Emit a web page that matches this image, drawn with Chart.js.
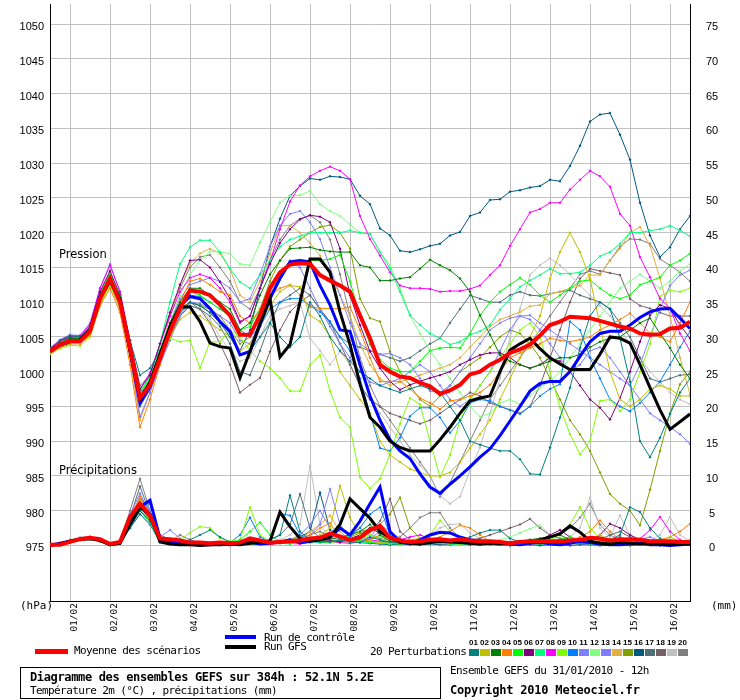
<!DOCTYPE html>
<html>
<head>
<meta charset="utf-8">
<title>Diagramme des ensembles GEFS</title>
<script src="https://cdn.jsdelivr.net/npm/chart.js@4.4.0/dist/chart.umd.min.js"></script>
<style>
  body { margin: 0; background: #fff; }
  #wrap { position: relative; width: 740px; height: 700px; overflow: hidden; background: #fff; color: #000; }
  #gefs { position: absolute; left: 0; top: 0; }
  .lab { position: absolute; white-space: nowrap; font-family: 'DejaVu Sans', sans-serif; font-size: 11.5px; line-height: 12px; }
  .m { position: absolute; white-space: nowrap; font-family: 'DejaVu Sans Mono', monospace; font-size: 11px; letter-spacing: -0.6px; line-height: 12px; }
  .b { font-weight: bold; font-size: 12px; }
  .bar { position: absolute; width: 31px; height: 4px; }
  .code { position: absolute; width: 11px; text-align: center; font-family: 'Liberation Sans', sans-serif; font-weight: bold; font-size: 8px; line-height: 8px; }
  .sq { position: absolute; width: 10px; height: 7px; }
  #box { position: absolute; left: 20px; top: 667px; width: 419px; height: 30px; border: 1px solid #000; }
</style>
</head>
<body>
<div id="wrap">
  <canvas id="gefs" width="740" height="700"></canvas>
  <div class="lab" style="left:59px;top:248px">Pression</div>
  <div class="lab" style="left:59px;top:464px">Précipitations</div>
  <div class="m" style="left:20px;top:600px;letter-spacing:0">(hPa)</div>
  <div class="m" style="left:711px;top:600px;letter-spacing:0">(mm)</div>

  <div class="bar" style="left:35px;top:649px;height:5px;width:33px;background:#ff0000"></div>
  <div class="m" style="left:74px;top:645px">Moyenne des scénarios</div>
  <div class="bar" style="left:225px;top:635px;background:#0000ff"></div>
  <div class="m" style="left:264px;top:632px">Run de contrôle</div>
  <div class="bar" style="left:225px;top:645px;background:#000000"></div>
  <div class="m" style="left:264px;top:641px">Run GFS</div>
  <div class="m" style="left:370px;top:646px">20 Perturbations</div>
  <div id="swatches"></div>

  <div id="box"></div>
  <div class="m b" style="left:30px;top:671px;letter-spacing:-0.35px">Diagramme des ensembles GEFS sur 384h : 52.1N 5.2E</div>
  <div class="m" style="left:30px;top:685px">Température 2m (°C) , précipitations (mm)</div>
  <div class="m" style="left:450px;top:665px">Ensemble GEFS du 31/01/2010 - 12h</div>
  <div class="m b" style="left:450px;top:684px;letter-spacing:-0.2px">Copyright 2010 Meteociel.fr</div>
</div>
<script>
// run of 31/01/2010 12h, one value every 6 hours
const hours = [0,6,12,18,24,30,36,42,48,54,60,66,72,78,84,90,96,102,108,114,120,126,132,138,144,150,156,162,168,174,180,186,192,198,204,210,216,222,228,234,240,246,252,258,264,270,276,282,288,294,300,306,312,318,324,330,336,342,348,354,360,366,372,378,384];
const dayTicks = [12,36,60,84,108,132,156,180,204,228,252,276,300,324,348,372];
const dayLabels = ['01/02','02/02','03/02','04/02','05/02','06/02','07/02','08/02','09/02','10/02','11/02','12/02','13/02','14/02','15/02','16/02'];
const pressureTicks = [975,980,985,990,995,1000,1005,1010,1015,1020,1025,1030,1035,1040,1045,1050];
const precipTicks = [0,5,10,15,20,25,30,35,40,45,50,55,60,65,70,75];
const memberCodes = ['01','02','03','04','05','06','07','08','09','10','11','12','13','14','15','16','17','18','19','20'];

// hPa
const meanPressure = [1002.9,1003.9,1004.4,1004.4,1005.8,1010.5,1013.4,1010,1003.4,996.2,998.1,
  1001.9,1005.8,1009.1,1011.7,1011.5,1011,1009.6,1008.1,1005.3,1005.3,1008.1,1012,
  1014.3,1015.4,1015.6,1015.5,1013.9,1013.1,1012.4,1011.5,1008.1,1004.8,1001,
  1000,999.3,999.1,998.4,997.9,996.8,997.3,998.1,999.6,1000,1001,
  1001.7,1002.7,1003.2,1003.9,1005.2,1006.7,1007.2,1007.9,1007.8,1007.7,
  1007.3,1006.9,1006.5,1006.2,1005.5,1005.3,1005.4,1006.2,1006.3,1007.2];
const controlPressure = [1002.9,1003.8,1004.3,1004.5,1006,1010.8,1013.2,1010,1003,995.5,997.8,
  1001.8,1005.8,1009.5,1010.8,1010.5,1009.1,1007.2,1005.8,1002.4,1002.9,1006.7,1010.5,
  1013.4,1015.8,1016,1015.8,1012.4,1009.6,1006,1005.8,1001,996.5,993,
  990.2,988.6,987.5,985.3,983.4,982.5,983.8,985,986.3,987.7,988.9,
  990.8,992.9,995,997.2,998.3,998.6,998.6,1000,1002.2,1004.3,
  1005.5,1005.8,1005.8,1006.7,1007.8,1008.6,1009,1009.1,1007.7,1006.2];
const gfsPressure = [1003,1003.9,1004.5,1004.6,1006,1010.6,1013,1010.5,1003,996,998.5,
  1002.5,1006.5,1009.3,1009.3,1007.2,1004.1,1003.6,1003.4,999.1,1002.9,1007,1010.5,
  1002.1,1003.9,1010,1016.2,1016.2,1014.3,1008.6,1003.9,998.2,993.4,992,
  990,989.1,988.6,988.6,988.6,990.2,992,994,995.8,996.2,996.5,
  1000,1003.1,1004,1004.8,1003.3,1002,1001.1,1000.3,1000.3,1000.3,
  1002.5,1005,1004.8,1004.1,1001,997.7,994.5,991.7,992.8,993.9];

const pressure01 = [1003.2,1004.5,1005.2,1005,1006.5,1011,1013,1010.5,1004.5,999.5,1000.5,
  1003,1006,1008.5,1010,1009.5,1008.5,1007,1005,1002.5,1003,1005,1007,
  1005,1003.5,1005,1010,1008,1005,1003,1001.5,1000,999,998,
  997.5,997,997.5,998,997.5,997,995,993,990,989.5,989,
  988.6,988.6,987.4,985.3,985.2,989.1,993.4,997.7,1003.4,1008,
  1010,1009,1004.8,998.6,990,987.7,990.5,993.9,997,999];
const pressure02 = [1002.7,1003.6,1004,1004.2,1005.5,1010,1012.8,1009.5,1003,995.5,997.5,
  1001.5,1005,1007.5,1008.5,1008,1007,1006,1005,1003,1004,1006.5,1009.5,
  1011.5,1012.4,1012.2,1008.1,1007.2,1005,1000,998,996,994,990,
  988,987,986,985.5,985,985,985.5,987,989,991,993,
  996,999,1002,1005,1008,1013.4,1017.2,1020,1017.2,1013.4,
  1006.7,1000,996,995,996,997.5,998,997.5,996.5,996.5];
const pressure03 = [1003,1004.1,1004.8,1004.6,1006,1010.5,1013.5,1010.2,1003.6,996.5,998.5,
  1002.5,1007,1010,1012,1012,1011,1010,1009,1006,1007,1011,1014,
  1016,1017.7,1017.8,1017.9,1017.5,1017.3,1017.2,1017.2,1015.3,1015,1013.1,
  1013.1,1013.4,1013.6,1014.8,1016.1,1015.3,1014.6,1013.4,1011.5,1008.1,1005.3,
  1002.4,1001.5,1001,1000.5,1001,1001.5,1002,1002,1002.5,1003.5,
  1004.3,1004.8,1005,1006,1007,1007.7,1005.5,1003.4,1001,999];
const pressure04 = [1002.6,1003.5,1004,1004,1005.2,1009.5,1012,1008.5,1001,992,996,
  1001,1006,1010,1013,1013.4,1012.5,1011.5,1011,1008,1007,1009,1011,
  1012,1012.5,1011,1009.3,1009.1,1009.1,1009,1009.3,1006,1002,998.6,
  998.6,998.6,997.5,996.2,995.5,994.6,995.8,996,996.5,997,998.1,
  1000,1002,1002.7,1003.4,1004,1004.8,1004.5,1004.3,1004.6,1005,
  1006,1006.7,1007.5,1008.4,1007,1005.5,1005,1004.3,1007,1010];
const pressure05 = [1003.1,1004,1004.6,1004.8,1006.2,1011,1014,1010.8,1004,997,999,
  1003,1006.5,1009.5,1011.5,1011,1010,1009,1008,1006,1006.5,1009,1012,
  1014,1015.3,1015.5,1016,1016,1016.2,1016.8,1013,1008,1003.9,1001.7,
  1000.5,1000,1000,1001.5,1003,1003.4,1003.5,1003.4,1005.5,1008.1,1010,
  1011.5,1012.5,1013.5,1012.5,1011,1010,1011,1012,1013,1013.2,
  1012,1011,1010.5,1011,1012.5,1013,1013.6,1015.3,1016,1017];
const pressure06 = [1003.3,1004.4,1005,1005,1006.5,1011.5,1014.5,1011,1004.5,997.5,999.5,
  1004,1008.5,1012.5,1016,1016.1,1015,1012.9,1010.5,1007.2,1008,1012,1015.5,
  1018.5,1020.5,1021.9,1022.5,1022.3,1021.5,1017.7,1011,1006.7,1002.9,1000.5,
  998.6,997.4,998.1,998.6,999.1,999.5,1000,1001,1001.7,1002.4,1002.7,
  1002.7,1002,1001,1000.5,1001,1002,1001.5,1000,998,996,
  994.8,993.1,996.2,1000,1004.3,1008.1,1009.6,1009.1,1006.7,1004.8];
const pressure07 = [1003,1004.2,1004.6,1004.7,1006.3,1011.3,1014.3,1010.8,1004.2,997.2,999.2,
  1004,1010,1015.5,1017.9,1018.9,1018.9,1017.2,1014.8,1012.9,1012,1013.9,1016,
  1018,1019,1019.5,1020,1020,1020,1020,1020.3,1020,1019.8,1017.2,
  1014.8,1011.5,1008.1,1006.7,1005.5,1004.8,1003.9,1004.3,1005.3,1005.8,1006.7,
  1008.9,1010.5,1012.2,1013.1,1013.9,1014.8,1014.1,1014.1,1014.3,1015.3,
  1016.6,1017.2,1018.4,1020,1020,1020.3,1020.5,1021,1020.3,1019.5];
const pressure08 = [1003.3,1004.5,1005.1,1005.2,1006.8,1012,1015.3,1011.5,1004.5,997.5,999.8,
  1004,1008,1011.5,1013.5,1014,1013.5,1012,1010,1007,1008,1012,1015.8,
  1020.5,1024.5,1026.8,1028.1,1028.9,1029.5,1028.9,1027.7,1022.4,1019.1,1016.7,
  1014.3,1012.4,1012,1012,1011.9,1011.5,1011.6,1011.6,1011.9,1012.4,1013.9,
  1015.3,1018.1,1020.5,1022.9,1023.4,1024.3,1024.3,1026.2,1027.6,1028.9,
  1028.1,1026.6,1022.7,1021,1016.5,1013.6,1010.5,1009.1,1005.5,1003];
const pressure09 = [1002.5,1003.3,1003.8,1003.7,1005,1009.5,1012.5,1009.2,1003,996,998,
  1002,1004.8,1004.3,1004.5,1000.5,1004.3,1004.3,1006,1005,1003,1001.5,1000.5,
  999.1,997.2,997.2,1001,1002.4,997.2,993.4,992,984.8,983.2,984.6,
  988.1,992.5,996.2,995.3,990,984.8,988,993,996,998,1000,
  1002,1004,1006,1007,1005,1000,994.8,991,988.1,990,
  995.8,996,994.3,996,1000,1004,1010.8,1011.7,1011.5,1012];
const pressure10 = [1002.8,1003.7,1004.3,1004.3,1005.7,1010.2,1013,1009.8,1003.2,995.5,997.8,
  1001.5,1005.5,1009,1011,1010.8,1010,1009,1008,1006,1005,1006.5,1009,
  1010,1010.5,1010.5,1009.5,1008.6,1007.2,1005,1003,999,994,989,
  988.6,990.5,993.6,994.8,994.8,993.4,991.2,992.9,995.5,996,995.8,
  995,994.5,993.9,995,996.5,997.5,998.2,1007.2,1006,1002,
  999,996,995,994.3,995.5,997,998.6,1001,1003.5,1005.8];
const pressure11 = [1003.4,1004.6,1005.3,1005.2,1007,1012,1015.5,1011.5,1004,996.5,998.8,
  1003,1007,1010.5,1012.5,1013,1013.5,1013,1012,1010,1010.5,1014,1018,
  1021,1022.7,1023.1,1021.5,1019.1,1015,1011,1007,1004,1003,1002.5,
  1002.6,1002,1001,999,997.2,997,998,1000,1002,1004,1006,
  1007,1007.7,1008,1008.1,1007,1006,1005,1004,1003,1002,
  1001,1000,999,998,1001,1005,1009,1012.4,1013.9,1014.6];
const pressure12 = [1003.1,1004.2,1004.7,1004.6,1006.2,1011,1014,1010.5,1004,997,999.5,
  1003.5,1007,1011,1014,1016,1017.3,1017.2,1017,1015.5,1015.3,1018.6,1021.5,
  1024.3,1025.3,1025.4,1026,1024.1,1023.1,1022.4,1021.2,1020,1019.8,1017.2,
  1015.3,1012,1008.1,1005.5,1003,1001,999,997,995,993.5,994,
  995.5,996,995.3,996.5,997.7,998.6,1000,1002,1004,1006,
  1008,1010,1012,1013,1014,1013,1012,1013,1014.5,1015.5];
const pressure13 = [1002.6,1003.5,1004,1004.1,1005.4,1010,1013.8,1009.5,1002.5,993.5,997,
  1001,1004.5,1008,1010,1009.8,1009,1008,1007,1004.5,1004,1007,1011,
  1014,1016,1015,1012,1009,1006.5,1004,1002,1000,998.5,998,
  998.5,999,1000,1001,1000,998,996,995,996,998,1000,
  1003,1006,1008,1007.5,1006,1004,1002,1000,1001,1003,
  1003.5,1002,1000,998,996,994,993,992,991,989.6];
const pressure14 = [1003,1004,1004.5,1004.6,1005.5,1010,1012.5,1009,1002,993,997,
  1002.5,1008,1012.5,1015.5,1017,1017.7,1017,1014.8,1011,1010,1013,1017,
  1021,1021,1020,1018.5,1016.7,1014,1011,1008,1004,1001,999,
  998,998.5,999,999.5,1000,1000.5,1001,1002,1003.5,1005,1006.5,
  1007.5,1008,1008.6,1009.4,1009.6,1011.2,1011.5,1012,1012.4,1013.9,
  1013.9,1016,1017.7,1020,1020.8,1018.1,1013.4,1008,1002,996.7];
const pressure15 = [1002.8,1003.8,1004.2,1004.3,1005.6,1010.3,1013.2,1009.8,1003.4,995.8,998,
  1002,1006,1009,1010,1009.5,1009,1008,1006,1004,1005,1009,1013,
  1016,1018,1019,1020,1020.8,1021.1,1020,1017.7,1010.5,1007.7,1007.2,
  1002.9,1000,998,996,995,996.5,998,1000,1001,1002,1003.5,
  1005,1006,1005.5,1004,1002,999,996,993,991,988.6,
  985.5,982.4,981,980,977.9,983,988.6,994,998.2,1000];
const pressure16 = [1002.9,1003.9,1004.5,1004.5,1005.9,1010.6,1013.6,1010.2,1003.8,996.8,998.6,
  1002.5,1006.5,1009,1010,1009.5,1008.5,1007,1005.5,1003,1006,1012,1018,
  1022,1025.3,1026.7,1027.8,1027.6,1028.1,1028,1027.7,1025.3,1024.1,1020.6,
  1019.6,1017.4,1017.2,1017.6,1018.1,1018.4,1019.6,1020.1,1022.4,1022.9,1024.7,
  1024.8,1025.9,1026.1,1026.5,1026.7,1027.6,1027.4,1029.6,1032.5,1036,
  1037,1037.2,1034.1,1030.5,1024.3,1019.6,1016.5,1017.9,1020.5,1022.4];
const pressure17 = [1002.7,1003.6,1004.1,1004.2,1005.4,1009.8,1012.6,1009.3,1003,995,997.5,
  1001.5,1005,1008,1009.5,1009,1008,1006.5,1004,1000,999.5,1003,1007,
  1010,1011,1012,1011,1009,1007,1005,1004,1003.5,1003,1002.5,
  1002,1001.5,1002,1003,1004,1004.8,1007,1009,1011,1010.5,1010,
  1010,1011,1011.5,1011,1010.9,1011.2,1011.5,1011.7,1011,1010.5,
  1010,1009,1007,1005,1002,999,998.5,999,999.5,999.6];
const pressure18 = [1002.8,1003.7,1004.2,1004.3,1005.5,1010,1012.8,1009.5,1003.5,996,998.2,
  1002,1005.5,1008.5,1010,1009,1007,1004,1001,997,998.1,999.1,1002.9,
  1006,1008.6,1010,1011,1009,1007.2,1004,1001,998,996,995,
  994,993.5,993,992.5,993,994,995,996,997,996.5,995.5,
  995,994.5,994,995,998,1002,1006,1010,1013.4,1014.8,
  1014.5,1014.2,1013.9,1010.5,1009.5,1009.1,1008.5,1008,1008,1008];
const pressure19 = [1002.9,1003.8,1004.3,1004.4,1005.7,1010.2,1013,1009.8,1003.2,995.5,997.8,
  1001.8,1005,1008,1009.5,1009,1007.5,1005,1003,1001.5,1002,1005,1008,
  1009,1009.5,1010,1004.8,1003,1001,1002.9,1001,998,996,994,
  992,990,988,986.5,985,982.2,981,982,985.8,989.1,994,
  999,1005,1009,1013.9,1015.3,1016.3,1015.3,1014,1012.4,1011,
  1009.5,1008,1006,1004,1002,1000,998.5,997,996,995.3];
const pressure20 = [1003.2,1004.3,1004.9,1005,1006.4,1011.2,1014.2,1011,1004.5,998,999.5,
  1004,1008.5,1012,1015,1016.5,1016.8,1015,1013,1010,1009,1012,1016,
  1019,1021,1022,1022.5,1021.5,1019,1014,1008,1002,998,995,
  993,991,989,987,985,982,984,987,990,993,996,
  998,1000,1002,1004,1006,1008,1010,1012,1014,1014.5,
  1014,1016,1018,1019.1,1019,1018.4,1016.2,1015.3,1014.3,1013];

// mm
const meanPrecip = [0.1,0.1,0.5,0.9,1.1,0.9,0.2,0.5,4.1,6,4.3,
  1,0.9,0.7,0.4,0.4,0.3,0.4,0.3,0.4,1,0.7,0.4,
  0.5,0.6,0.7,1,1.1,1.7,1.3,0.8,1.1,2.2,2.8,
  1.1,0.7,0.5,0.6,0.8,0.9,0.7,0.9,0.7,0.6,0.6,
  0.5,0.3,0.5,0.6,0.6,0.6,0.6,0.7,0.8,1.1,
  1,0.7,0.8,0.9,0.8,0.6,0.6,0.6,0.5,0.5];
const controlPrecip = [0,0.3,0.6,0.9,1,0.8,0.1,0.4,3.5,5.5,6.5,
  1,0.6,0.4,0.2,0.1,0.1,0.2,0.1,0.3,0.5,0.2,0.3,
  0.5,0.8,0.4,0.6,0.9,1.2,2.5,1.5,3.5,6,8.4,
  2,0.5,0.3,0.8,1.5,1.9,1.8,1.2,0.8,0.6,0.4,
  0.3,0.2,0.1,0.3,0.5,0.2,0.1,0.3,0.6,0.4,
  0.2,0.1,0.1,0.2,0.3,0.1,0.1,0,0.1,0.2];
const gfsPrecip = [0,0.2,0.6,0.9,1,0.7,0.1,0.3,3,5.5,4.5,
  0.5,0.2,0.1,0.1,0,0.1,0.1,0.2,0.1,0.3,0.4,0.6,
  4.8,2.7,1,0.6,0.8,1.2,3,6.7,5.3,3.9,2,
  1.1,0.5,0.3,0.2,0.4,0.6,0.5,0.4,0.3,0.2,0.3,
  0.2,0.3,0.5,0.4,0.8,1.2,1.7,2.8,1.9,0.6,
  0.3,0.2,0.4,0.3,0.2,0.3,0.2,0.1,0.2,0.2];

const precip01 = [0,0.2,0.5,0.8,1,0.6,0.1,0.3,2.5,5,3.5,
  0.6,0.3,0.5,0.8,1.5,2.2,1.2,0.5,0.3,0.4,0.6,0.8,
  1.5,7.2,2,0.8,0.6,0.5,0.8,0.5,0.4,1.2,0.8,
  0.5,0.3,0.4,0.6,0.8,0.5,0.4,0.6,1.2,1.8,2.2,
  2.2,1,0.5,0.3,0.2,0.3,0.4,0.3,0.5,0.6,
  0.5,0.8,1.5,5.5,4.8,2.5,1,0.5,0.3,0.2];
const precip02 = [0,0.1,0.4,0.7,0.8,0.6,0.2,0.5,3.5,6.5,4.5,
  0.5,0.2,0.1,0.2,0.3,0.1,0.2,0.3,0.1,0.2,0.3,0.4,
  0.6,0.8,1.2,1,1.5,2.5,8.6,4,1.5,0.6,0.4,
  0.3,0.5,0.8,1,0.6,0.4,0.3,0.2,0.4,0.5,0.3,
  0.2,0.3,0.1,0.2,0.4,0.6,0.3,0.2,0.5,1,
  1.5,0.8,0.4,0.3,0.2,0.3,0.4,1.2,0.6,0.3];
const precip03 = [0,0.2,0.6,0.9,1.1,0.7,0.1,0.4,3,5,3.5,
  0.7,0.3,0.2,0.1,0.1,0.2,0.3,0.2,0.1,0.3,0.5,0.4,
  0.3,0.5,0.8,1,0.6,0.9,1.2,1.5,2,3,1.5,
  0.6,0.4,0.3,0.2,0.3,0.5,0.4,0.3,0.2,0.1,0.2,
  0.3,0.4,0.6,0.8,1,1.2,1.5,0.8,0.4,0.3,
  0.2,0.3,0.5,0.4,0.2,0.1,0.2,0.3,0.2,0.1];
const precip04 = [0,0.2,0.7,1,1.1,0.8,0.2,0.6,4,7,4.5,
  0.9,0.4,0.2,0.3,0.2,0.1,0.2,0.3,0.5,0.4,0.3,0.2,
  0.4,0.6,0.8,1.5,2.5,3.2,1,0.6,0.5,0.8,1.5,
  0.8,0.4,0.3,0.5,0.8,1.2,2,2.9,2.5,1.5,0.6,
  0.3,0.2,0.3,0.4,0.6,0.5,0.4,0.6,1.2,2,
  3.6,2,0.8,0.5,0.4,0.6,0.8,1.2,2,3.1];
const precip05 = [0,0.3,0.7,1,1,0.7,0.1,0.4,3.5,6,4,
  0.6,0.2,0.1,0.2,0.3,0.2,0.1,0.2,0.8,2,3.3,1.5,
  0.5,0.3,0.4,0.6,0.5,0.4,0.8,1,0.6,0.5,0.4,
  0.3,0.2,0.4,0.5,0.6,0.4,0.3,0.5,0.4,0.3,0.2,
  0.1,0.2,0.4,0.3,0.2,0.5,0.8,1.2,0.6,0.3,
  0.2,0.4,0.6,0.3,0.2,0.1,0.3,0.5,0.4,0.2];
const precip06 = [0,0.2,0.6,0.9,1,0.7,0.1,0.4,3,5.5,3.8,
  0.7,0.3,0.2,0.1,0.2,0.3,0.2,0.1,0.2,0.4,0.3,0.2,
  0.4,0.6,0.5,0.8,1,0.7,0.5,0.9,1.5,2.5,1.8,
  1,0.5,0.3,0.2,0.4,0.6,0.8,0.5,0.3,0.2,0.3,
  0.4,0.3,0.2,0.5,0.8,1.5,2.2,1.2,0.6,0.4,
  1.5,3.1,2.5,1.5,0.8,0.4,0.3,0.5,0.3,0.2];
const precip07 = [0,0.2,0.5,0.8,0.9,0.6,0.1,0.3,2.8,5,3.2,
  0.5,0.2,0.1,0.1,0.2,0.1,0.1,0.2,0.3,0.2,0.1,0.2,
  0.3,0.2,0.4,0.5,0.6,1.5,3,1,0.5,0.4,0.3,
  0.2,0.3,0.5,0.8,0.6,0.4,0.2,0.1,0.2,0.3,0.2,
  0.1,0.1,0.2,0.3,0.2,0.1,0.2,0.3,0.4,0.2,
  0.1,0.2,0.1,0.1,0.2,0.3,0.2,0.1,0.1,0.1];
const precip08 = [0,0.2,0.6,0.9,1,0.7,0.1,0.5,3.5,6.5,4.2,
  0.6,0.2,0.1,0.2,0.1,0.1,0.2,0.1,0.2,0.3,0.2,0.3,
  0.4,0.3,0.2,0.5,0.8,0.6,0.4,0.3,0.5,0.8,0.6,
  0.5,0.8,1.2,1.5,1,0.6,0.4,0.3,0.2,0.1,0.2,
  0.3,0.2,0.1,0.2,0.3,0.2,0.4,0.6,0.3,0.2,
  0.1,0.2,0.4,0.6,1,2.2,4.1,2,0.8,0.4];
const precip09 = [0,0.2,0.6,0.9,1,0.7,0.1,0.4,3,5.5,3.5,
  0.6,0.3,0.8,1.8,2.7,2.5,1,0.6,0.8,5.5,1.5,0.5,
  0.4,0.3,0.5,0.6,0.8,0.5,0.4,0.6,1,1.5,0.8,
  0.5,0.3,0.4,0.6,1.5,3.6,2,1,0.5,0.3,0.2,
  0.3,0.4,0.2,0.3,0.5,0.8,1.5,3,5.5,2.5,
  1,0.6,0.4,0.3,0.5,0.4,0.3,0.2,0.3,0.2];
const precip10 = [0,0.2,0.5,0.9,1,0.7,0.1,0.4,3.2,5.8,6,
  0.8,0.3,0.2,0.1,0.2,0.3,0.2,0.4,1.5,4,1.2,0.6,
  4.6,4.3,1.5,0.6,0.4,0.5,0.8,1.2,2.5,4.5,5.5,
  1.5,0.6,0.4,0.3,0.5,0.4,0.3,0.2,0.3,0.4,0.3,
  0.2,0.3,0.4,0.3,0.2,0.4,0.6,0.5,0.3,0.2,
  0.3,0.4,0.6,0.8,0.5,0.3,0.2,0.3,0.4,0.3];
const precip11 = [0,0.2,0.6,0.9,1.1,0.8,0.2,0.6,4.5,7.5,4.5,
  1.2,2.2,1,0.4,0.3,0.2,0.3,0.2,0.1,0.3,0.4,0.5,
  0.6,0.8,1,1.5,3,8.1,3,1,0.6,1,2,
  1.2,0.6,0.4,0.5,0.4,0.3,0.5,0.6,0.4,0.3,0.2,
  0.3,0.2,0.3,0.4,0.5,0.3,0.2,0.4,0.6,0.4,
  0.3,0.5,0.8,0.6,0.4,0.3,0.2,0.3,0.2,0.2];
const precip12 = [0,0.2,0.6,0.8,1,0.7,0.1,0.4,3,5,3.5,
  0.6,0.3,0.2,0.3,0.2,0.1,0.2,0.3,0.4,0.3,0.2,0.3,
  0.5,0.6,0.4,0.3,0.5,0.8,0.6,0.4,0.8,1.5,1.2,
  0.8,0.5,0.6,0.8,1,0.7,0.5,0.4,0.3,0.5,0.6,
  0.8,1.2,1.8,2.4,2.9,1.5,0.6,0.4,0.3,0.2,
  0.2,0.3,0.4,0.3,0.2,0.3,0.5,0.4,0.3,0.2];
const precip13 = [0,0.2,0.5,0.8,0.9,0.7,0.2,0.5,3.8,7,5,
  0.9,0.4,0.3,0.2,0.1,0.2,0.3,0.2,0.3,0.5,0.6,0.4,
  0.5,0.8,1.5,3,5,2.5,1,0.6,0.8,1.2,3,
  2,1,0.5,0.4,0.3,0.4,0.5,0.6,0.4,0.3,0.2,
  0.2,0.3,0.4,0.5,0.3,0.2,0.4,0.6,0.8,0.5,
  0.3,0.2,0.4,0.6,0.8,1.2,0.6,0.4,0.3,0.5];
const precip14 = [0,0.3,0.8,1.1,1.1,0.8,0.2,0.5,3.2,5.5,3.6,
  0.7,0.3,0.1,0.2,0.1,0.1,0.2,0.3,0.2,0.4,0.3,0.5,
  0.6,0.4,0.8,2,3,4.3,2,0.8,0.6,0.9,1.5,
  1,0.5,0.4,0.6,0.5,0.3,0.2,0.4,0.5,0.6,0.4,
  0.3,0.2,0.4,0.5,0.6,0.4,0.3,0.5,0.8,1,
  0.6,0.4,0.3,0.2,0.4,0.6,0.4,0.3,0.5,0.8];
const precip15 = [0,0.2,0.6,0.9,1,0.7,0.1,0.4,3,6,4,
  0.7,0.3,0.2,0.1,0.2,0.3,0.1,0.2,0.3,0.2,0.4,0.3,
  0.5,0.4,0.6,0.8,0.5,0.6,0.8,1.2,1.8,2.5,3,
  4.5,6.9,2.5,1,0.5,0.4,0.3,0.5,0.4,0.3,0.2,
  0.3,0.4,0.3,0.2,0.4,0.5,0.8,1.2,0.8,0.5,
  0.4,0.6,0.8,0.5,0.3,0.2,0.4,0.6,0.4,0.3];
const precip16 = [0,0.2,0.6,1,1,0.7,0.1,0.4,2.5,4.5,3,
  0.5,0.2,0.1,0.2,0.1,0.2,0.1,0.2,0.3,0.2,0.4,0.6,
  0.5,0.8,1.2,2,7.6,2.2,0.8,0.5,0.4,0.3,0.2,
  0.1,0.2,0.1,0.1,0.2,0.1,0.1,0.2,0.1,0.1,0.1,
  0.1,0,0.1,0.1,0,0.1,0.1,0,0.1,0.1,
  0,0.1,0.1,0,0.1,0.1,0,0.1,0.2,0.1];
const precip17 = [0,0.2,0.6,0.9,1,0.7,0.1,0.5,4,8.5,4.5,
  1.5,0.8,0.4,0.3,0.2,0.1,0.2,0.3,0.5,0.4,0.6,0.8,
  1.5,3,7.4,2.5,1,0.6,0.5,0.8,0.6,0.5,0.4,
  0.3,0.2,0.3,0.4,0.3,0.5,0.6,0.4,0.3,0.2,0.3,
  0.4,0.3,0.2,0.3,0.5,0.6,0.4,0.3,0.2,0.4,
  0.8,1.5,2,1.2,0.6,0.4,0.3,0.2,0.3,0.4];
const precip18 = [0,0.2,0.6,0.9,1,0.7,0.1,0.4,3.5,7,4.5,
  0.8,0.3,0.2,0.3,0.2,0.3,0.4,0.2,0.3,0.5,0.4,0.3,
  0.6,0.5,0.8,1,0.6,0.5,0.8,1,1.5,2,3.5,
  6.7,2,0.8,0.5,0.4,0.3,0.4,0.6,0.8,1,1.5,
  2,2.5,3,3.8,2.5,1.5,1,0.8,0.6,0.4,
  0.5,0.8,1.2,0.8,0.5,0.3,0.4,0.6,0.4,0.3];
const precip19 = [0,0.3,0.8,1.2,1.3,0.9,0.3,0.6,3.5,6.5,4,
  0.6,0.3,0.2,0.1,0.2,0.3,0.2,0.1,0.2,0.3,0.5,0.6,
  0.8,1.5,3,11.5,3,1,0.6,0.5,0.8,0.6,0.5,
  0.4,0.3,0.5,0.8,1.5,2.5,3,3.1,1.8,1,0.6,
  0.4,0.3,0.5,0.6,0.5,0.4,0.6,1.2,2.5,6.9,
  2.5,1.2,4.3,1.5,0.8,0.6,1.5,4.1,1.5,0.6];
const precip20 = [0,0.2,0.6,1,1.1,0.8,0.2,0.6,5,9.6,5,
  1,0.6,1.5,0.8,0.4,0.3,0.2,0.3,0.4,0.6,0.5,0.4,
  0.6,0.8,1,1.5,2,1.2,0.8,1.5,2.5,1.5,1,
  0.8,1.2,2.5,4,4.7,4.7,2.5,1,0.6,0.4,0.3,
  0.4,0.3,0.5,0.8,1,1.2,1.5,2.5,4,6,
  3,1.5,0.8,0.6,0.4,0.5,0.6,0.4,0.3,0.2];

const memberPressure = [pressure01, pressure02, pressure03, pressure04, pressure05, pressure06, pressure07,
  pressure08, pressure09, pressure10, pressure11, pressure12, pressure13, pressure14, pressure15,
  pressure16, pressure17, pressure18, pressure19, pressure20];
const memberPrecip = [precip01, precip02, precip03, precip04, precip05, precip06, precip07,
  precip08, precip09, precip10, precip11, precip12, precip13, precip14, precip15,
  precip16, precip17, precip18, precip19, precip20];

const memberColors = ['#008080','#c0c000','#008000','#ff8000','#00ff00','#800080','#00ff80','#ff00ff','#80ff00','#0080ff',
  '#8080ff','#80ff80','#7c7cff','#e0b040','#80a000','#005a80','#507078','#786068','#c0c0c0','#808080'];
const gridColor = '#c0c0c0';

// legend squares under the member numbers
const swatches = document.getElementById('swatches');
memberCodes.forEach((code, i) => {
  const left = 469 + i * 11;
  swatches.insertAdjacentHTML('beforeend',
    `<div class="code" style="left:${left - 1}px;top:639px">${code}</div>` +
    `<div class="sq" style="left:${left}px;top:649px;background:${memberColors[i]}"></div>`);
});

function lineDataset(label, values, color, width, axis, order, marks) {
  return {
    label,
    data: values.map((v, i) => ({ x: hours[i], y: v })),
    yAxisID: axis,
    borderColor: color,
    backgroundColor: color,
    borderWidth: width,
    pointRadius: marks ? 1.5 : 0,
    pointStyle: 'rectRot',
    pointBorderWidth: 0,
    pointBackgroundColor: color,
    fill: false,
    tension: 0,
    order,
  };
}

const datasets = [
  lineDataset('Moyenne des scénarios', meanPressure, '#ff0000', 4, 'y', 0, false),
  lineDataset('Moyenne des scénarios (mm)', meanPrecip, '#ff0000', 4, 'y2', 0, false),
  lineDataset('Run GFS', gfsPressure, '#000000', 3, 'y', 1, false),
  lineDataset('Run GFS (mm)', gfsPrecip, '#000000', 3, 'y2', 1, false),
  lineDataset('Run de contrôle', controlPressure, '#0000ff', 3, 'y', 2, false),
  lineDataset('Run de contrôle (mm)', controlPrecip, '#0000ff', 3, 'y2', 2, false),
];
memberCodes.forEach((code, i) => {
  datasets.push(lineDataset('P' + code, memberPressure[i], memberColors[i], 1, 'y', 3, true));
  datasets.push(lineDataset('P' + code + ' (mm)', memberPrecip[i], memberColors[i], 1, 'y2', 3, true));
});

const tickFont = { family: 'Liberation Sans', size: 11 };

new Chart(document.getElementById('gefs'), {
  type: 'line',
  data: { datasets },
  options: {
    responsive: false,
    animation: false,
    events: [],
    layout: { padding: 0 },
    plugins: { legend: { display: false }, tooltip: { enabled: false } },
    scales: {
      x: {
        type: 'linear',
        min: 0,
        max: 384,
        afterBuildTicks: (s) => { s.ticks = dayTicks.map((v) => ({ value: v })); },
        afterFit: (s) => { s.height = 99; s.paddingLeft = 0; s.paddingRight = 0; },
        grid: { color: gridColor, drawTicks: false },
        border: { color: '#000', width: 1 },
        ticks: {
          autoSkip: false,
          minRotation: 90,
          maxRotation: 90,
          padding: 2,
          labelOffset: 5,
          color: '#000',
          font: { family: 'DejaVu Sans Mono', size: 9.5 },
          callback: (v, i) => dayLabels[i],
        },
      },
      y: {
        type: 'linear',
        position: 'left',
        min: 967,
        max: 1052.9,
        afterBuildTicks: (s) => { s.ticks = pressureTicks.map((v) => ({ value: v })); },
        afterFit: (s) => { s.width = 50; s.paddingTop = 0; s.paddingBottom = 0; },
        grid: { color: gridColor, drawTicks: false },
        border: { color: '#000', width: 1 },
        ticks: { padding: 6, labelOffset: 3, color: '#000', font: tickFont, callback: (v) => String(v) },
      },
      y2: {
        type: 'linear',
        position: 'right',
        min: -8,
        max: 77.9,
        afterBuildTicks: (s) => { s.ticks = precipTicks.map((v) => ({ value: v })); },
        afterFit: (s) => { s.width = 50; s.paddingTop = 0; s.paddingBottom = 0; },
        grid: { display: false, drawTicks: false },
        border: { color: '#000', width: 1 },
        ticks: { padding: 16, crossAlign: 'center', labelOffset: 3, color: '#000', font: tickFont, callback: (v) => String(v) },
      },
    },
  },
});
</script>
</body>
</html>
